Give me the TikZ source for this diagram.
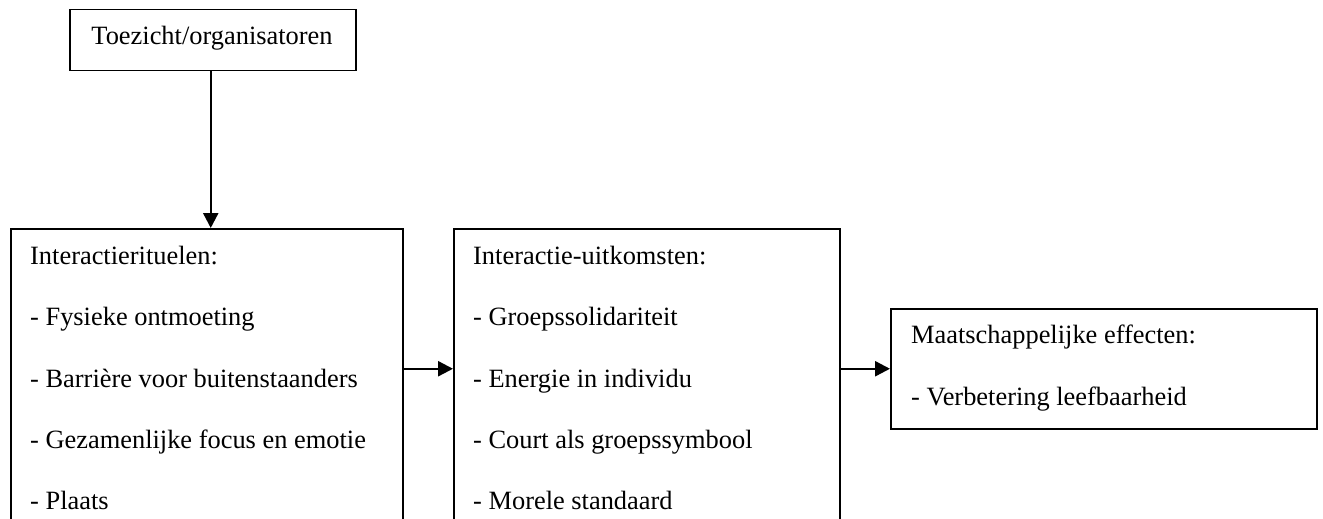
\documentclass[tikz,border=0pt]{standalone}
\usepackage{fontspec}
\setmainfont{Liberation Serif}
\usetikzlibrary{arrows.meta}
\begin{document}
\begin{tikzpicture}[x=1pt,y=-1pt,
  box/.style={draw,line width=1.5pt,inner sep=0pt,anchor=north west},
  txt/.style={anchor=base west,inner sep=0pt,font=\fontsize{26.4pt}{30pt}\selectfont},
  ctxt/.style={anchor=base,inner sep=0pt,font=\fontsize{26.4pt}{30pt}\selectfont},
  arr/.style={line width=2.4pt,-{Triangle[length=15pt,width=15pt]}}]
\clip (0,0) rectangle (1323,519);
\fill[white] (0,0) rectangle (1323,519);
% boxes
\node[box,minimum width=286pt,minimum height=61pt] (top) at (69,9) {};
\node[box,minimum width=392pt,minimum height=320pt] (left) at (10,228) {};
\node[box,minimum width=386pt,minimum height=320pt] (mid) at (453,228) {};
\node[box,minimum width=426pt,minimum height=120pt] (right) at (890,308) {};
% texts
\node[ctxt] (t0) at (212,45) {Toezicht/organisatoren};
\node[txt] (l0) at (30,264) {Interactierituelen:};
\node[txt] (l1) at (30,325) {- Fysieke ontmoeting};
\node[txt] (l2) at (30,387) {- Barrière voor buitenstaanders};
\node[txt] (l3) at (30,448) {- Gezamenlijke focus en emotie};
\node[txt] (l4) at (30,509) {- Plaats};
\node[txt] (m0) at (473,264) {Interactie-uitkomsten:};
\node[txt] (m1) at (473,325) {- Groepssolidariteit};
\node[txt] (m2) at (473,387) {- Energie in individu};
\node[txt] (m3) at (473,448) {- Court als groepssymbool};
\node[txt] (m4) at (473,509) {- Morele standaard};
\node[txt] (r0) at (911,343) {Maatschappelijke effecten:};
\node[txt] (r1) at (911,405) {- Verbetering leefbaarheid};
% connectors
\draw[arr] ([xshift=-2pt]top.south) -- ([xshift=-2pt]top.south |- left.north);
\draw[arr] (left.east |- right.west) -- (mid.west |- right.west);
\draw[arr] (mid.east |- right.west) -- (right.west);
\end{tikzpicture}
\end{document}
